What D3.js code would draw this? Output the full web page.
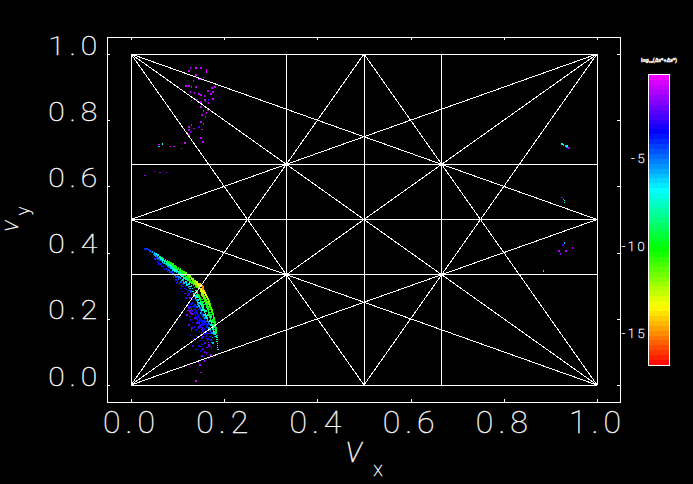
<!DOCTYPE html>
<html>
<head>
<meta charset="utf-8">
<script src="https://cdn.jsdelivr.net/npm/d3@7"></script>
<style>
  html, body { margin: 0; background: #000; }
  svg { display: block; }
  text { fill: #fff; stroke: #fff; stroke-width: 0.35px; font-family: Roboto, sans-serif; font-weight: 100; opacity: 0.99; }
</style>
</head>
<body>
<div id="chart"></div>
<script>
// tick labels
const frameTicks = [0, 0.2, 0.4, 0.6, 0.8, 1.0];
const barTicks = [-5, -10, -15];
const barRange = [-0.2, -16.8];

// resonance lines, [nuX1, nuY1, nuX2, nuY2]
const resonanceLines = [
  [0, 0, 1, 0], [0, 1, 1, 1], [0, 0, 0, 1], [1, 0, 1, 1],
  [1/3, 0, 1/3, 1], [0.5, 0, 0.5, 1], [2/3, 0, 2/3, 1],
  [0, 1/3, 1, 1/3], [0, 0.5, 1, 0.5], [0, 2/3, 1, 2/3],
  [0, 0, 1, 1], [0, 1, 1, 0],
  [0, 0, 1, 0.5], [0, 0, 0.5, 1], [1, 0, 0, 0.5], [1, 0, 0.5, 1],
  [0, 1, 1, 0.5], [0, 1, 0.5, 0], [1, 1, 0, 0.5], [1, 1, 0.5, 0]
];

// [nuX, nuY, log10 diffusion]
const armTopEdge = [
  [.030,.411,-4],[.034,.411,-4.2],[.038,.408,-4],[.042,.405,-5],[.046,.402,-5.5],[.050,.399,-6],
  [.054,.396,-6.5],[.058,.393,-7],[.062,.387,-8],[.066,.384,-8.5],[.070,.381,-9],[.074,.378,-9.5],
  [.078,.375,-10],[.082,.372,-10],[.086,.369,-10],[.090,.366,-10.5],[.094,.360,-10],[.098,.357,-11],
  [.102,.354,-10],[.106,.351,-11],[.110,.345,-10.5],[.114,.342,-11],[.118,.339,-11.5],[.122,.333,-11.5],
  [.126,.330,-12],[.130,.324,-12.5],[.134,.321,-12.5],[.138,.315,-13],[.142,.312,-13],[.146,.306,-13.5]
];
const armEdgeFill = [
  [.044,.400,-4.6],[.052,.393,-5.5],[.057,.389,-6],[.063,.384,-7],[.067,.380,-7.5],[.071,.376,-8.5],
  [.075,.373,-9],[.079,.370,-9.5],[.083,.367,-9.5],[.087,.364,-9.8],[.091,.360,-9.8],[.095,.355,-9.5],
  [.099,.352,-10],[.103,.349,-9.8],[.107,.345,-10],[.111,.341,-10.5],[.115,.338,-10.5],[.119,.334,-11],
  [.123,.329,-11],[.127,.325,-11.5],[.131,.320,-12],[.135,.315,-12],[.139,.310,-12.5],[.143,.306,-13],
  [.147,.301,-13.5]
];
const armSecondRow = [
  [.040,.402,-4],[.048,.396,-4.5],[.054,.390,-5],[.060,.384,-5.5],[.064,.381,-6.5],[.068,.375,-7],
  [.072,.372,-7.5],[.076,.369,-8],[.080,.366,-8.5],[.084,.363,-8],[.088,.360,-9],[.092,.354,-9],
  [.096,.351,-8.5],[.100,.348,-9],[.104,.345,-9],[.108,.339,-9.5],[.112,.336,-10],[.116,.333,-10],
  [.120,.327,-10.5],[.124,.324,-11],[.128,.318,-11],[.132,.315,-11.5],[.136,.309,-12],[.140,.306,-12.5],
  [.144,.300,-12.5],[.148,.297,-13]
];
const armInnerFill = [
  [.058,.381,-4.8],[.064,.376,-5],[.068,.371,-5.5],[.073,.367,-6],[.077,.364,-6.5],[.081,.361,-7],
  [.085,.358,-7],[.089,.353,-7.5],[.093,.350,-8],[.097,.346,-7.5],[.101,.343,-8],[.105,.339,-8.5],
  [.109,.334,-8.5],[.113,.330,-9],[.117,.327,-9],[.121,.322,-9.5],[.125,.318,-10],[.129,.313,-10],
  [.133,.309,-10.5],[.137,.304,-11],[.141,.300,-11.5],[.145,.295,-12]
];
const armThirdRow = [
  [.056,.384,-4],[.062,.378,-4.5],[.066,.375,-4],[.070,.369,-5],[.074,.363,-4.5],[.078,.360,-5.5],
  [.082,.357,-5],[.086,.354,-6],[.090,.348,-6.5],[.094,.345,-7],[.098,.342,-6.5],[.102,.339,-7.5],
  [.106,.333,-7],[.110,.330,-8],[.114,.324,-8],[.118,.321,-8.5],[.122,.318,-8],[.126,.312,-9],
  [.130,.309,-9.5],[.134,.303,-10],[.138,.300,-10.5],[.142,.294,-11],[.146,.291,-11.5]
];
const armScatter = [
  [.048,.390,-3.5],[.052,.381,-2.5],[.058,.372,-3.5],[.060,.366,-3],[.064,.366,-3.8],[.066,.360,-3.6],
  [.070,.357,-3.8],[.072,.351,-3.5],[.076,.351,-4],[.078,.345,-3.8],[.082,.348,-4.2],[.084,.342,-4.5],
  [.088,.342,-4],[.090,.336,-4.8],[.094,.333,-5],[.096,.327,-4.5],[.100,.330,-5.5],[.102,.321,-5],
  [.106,.324,-5.5],[.108,.315,-6],[.112,.318,-6.5],[.114,.309,-6],[.118,.312,-7],[.120,.303,-6.5],
  [.124,.306,-7.5],[.126,.297,-7],[.130,.300,-8],[.132,.291,-7.5],[.136,.294,-8.5],[.138,.285,-8],
  [.142,.285,-9],[.100,.312,-4.5],[.104,.306,-4],[.108,.300,-4],[.112,.297,-3.2],[.116,.291,-3.5],
  [.120,.288,-3],[.124,.285,-4.5],[.128,.279,-5],[.130,.270,-3.5],[.134,.273,-6],[.116,.276,-2.5],
  [.110,.282,-3],[.106,.291,-3.5],[.122,.270,-2.5],[.126,.262,-2.2],[.118,.262,-3],[.132,.258,-3.2],
  [.138,.268,-6.5],[.142,.272,-8],
  [.091,.327,-4.3],[.097,.318,-3.9],[.103,.326,-5.2],[.099,.309,-3.6],[.107,.311,-4.8],[.111,.304,-3.4],
  [.113,.315,-5.6],[.117,.299,-3.9],[.119,.308,-6.2],[.123,.296,-5.1],[.121,.281,-3.3],[.127,.291,-6],
  [.129,.284,-4.2],[.125,.275,-2.9],[.133,.282,-6.8],[.131,.264,-3.7],[.135,.267,-5.3],[.137,.276,-7.4],
  [.139,.258,-4.4],[.141,.266,-7.1],[.143,.281,-8.7],[.145,.257,-6.4],[.147,.269,-8.9],[.149,.263,-9.6],
  [.151,.272,-11],[.153,.258,-9.7],[.155,.251,-9.2],[.157,.243,-9.4],[.149,.244,-7.8],[.154,.239,-7.2],
  [.146,.248,-6.9]
];
const kneeRidge = [
  [.148,.305,-14],[.150,.302,-14.5],[.152,.299,-14.8],[.154,.296,-15],[.155,.293,-15],[.155,.290,-14.8],
  [.156,.287,-14.5],[.157,.284,-14],[.158,.281,-13.8],[.159,.278,-13.5],[.160,.275,-13],[.161,.272,-13],
  [.163,.266,-12.5],[.164,.263,-12.5],[.165,.260,-12],[.167,.254,-11.5],[.168,.251,-12],[.170,.245,-11],
  [.170,.239,-11.5],[.172,.233,-11],[.174,.227,-11],[.174,.221,-10.5],[.176,.215,-10.5],[.177,.209,-10],
  [.178,.203,-10.5],[.178,.197,-10],[.180,.191,-10],[.180,.185,-10],[.181,.179,-9.8],[.182,.173,-10],
  [.182,.167,-9.5],[.183,.161,-9.5],[.183,.155,-9.5],[.184,.149,-9],[.184,.143,-9],[.185,.137,-8.5],
  [.185,.131,-8.5],[.186,.125,-8],[.186,.119,-7.5],[.186,.113,-7],[.187,.107,-6.5]
];
const kneeFill = [
  [.152,.290,-13.5],[.153,.284,-13.5],[.155,.279,-13],[.156,.275,-12.5],[.158,.269,-12],[.160,.263,-11.5],
  [.161,.257,-11.5],[.163,.250,-11],[.165,.244,-11],[.167,.236,-10.5],[.169,.228,-10.5],[.170,.219,-10],
  [.172,.212,-10],[.173,.205,-9.5],[.175,.197,-9.5],[.176,.190,-9.5],[.177,.182,-9],[.178,.175,-9],
  [.179,.168,-8.5],[.180,.161,-8.5],[.181,.154,-8],[.182,.146,-7.5]
];
const kneeInnerRow = [
  [.146,.300,-13],[.147,.294,-13.5],[.149,.291,-13.8],[.150,.288,-13],[.150,.284,-12.5],[.151,.281,-13],
  [.152,.278,-12.5],[.153,.275,-12],[.154,.272,-12],[.155,.269,-11.5],[.156,.266,-11],[.157,.262,-11],
  [.158,.258,-10.5],[.159,.254,-11],[.160,.251,-10],[.161,.245,-10.5],[.163,.242,-10],[.163,.236,-9.5],
  [.165,.230,-10],[.166,.224,-9.5],[.167,.218,-9],[.168,.212,-9.5],[.170,.206,-8.5],[.171,.200,-9],
  [.172,.194,-8.5],[.173,.188,-8],[.174,.182,-8.5],[.175,.176,-7.5],[.176,.170,-8],[.177,.164,-7],
  [.178,.158,-6.5],[.178,.152,-5.5],[.179,.146,-5]
];
const lowerScatter = [
  [.140,.279,-9.5],[.143,.276,-10],[.145,.272,-10.5],[.146,.266,-9.5],[.147,.260,-9],[.149,.256,-10],
  [.150,.250,-9],[.152,.245,-8.5],[.153,.239,-9],[.155,.233,-8],[.157,.227,-8.5],[.158,.221,-7.5],
  [.160,.215,-7],[.161,.209,-7.5],[.163,.203,-6.5],[.164,.197,-6],[.166,.191,-5.5],[.167,.185,-4.5],
  [.135,.276,-8],[.138,.263,-7],[.141,.257,-6],[.143,.251,-6.5],[.144,.245,-5.5],[.146,.239,-6],
  [.148,.233,-5],[.150,.227,-4.5],[.151,.221,-5],[.153,.215,-4],[.155,.209,-4.5],[.156,.203,-4],
  [.158,.197,-3.5],[.159,.191,-4],[.161,.185,-3.5],[.163,.179,-3.8],[.165,.173,-3.6],[.167,.167,-3.5],
  [.169,.161,-3.2],[.171,.155,-3],[.173,.149,-3.2],[.132,.248,-4],[.134,.242,-3.5],[.136,.236,-3.8],
  [.138,.230,-3.2],[.140,.224,-3.5],[.142,.218,-3],[.144,.212,-3.6],[.146,.206,-3.2],[.148,.200,-3.8],
  [.150,.194,-3.5],[.152,.188,-3.8],[.154,.182,-3.2],[.156,.176,-3.6],[.158,.170,-3],[.160,.164,-3.4],
  [.162,.158,-3.6],[.164,.152,-3],[.128,.236,-2.5],[.130,.230,-2.2],[.132,.224,-2.5],[.126,.224,-2],
  [.128,.218,-1.8],[.124,.233,-2.2],[.122,.239,-3],[.136,.218,-3.5],[.138,.212,-3],[.140,.206,-3.4],
  [.142,.200,-3],[.144,.194,-3.5],[.146,.188,-2.8],[.148,.182,-3.2],[.150,.176,-3],[.152,.170,-2.6],
  [.154,.164,-3],[.156,.158,-3.2],[.158,.152,-2.8],[.160,.146,-2.6],[.162,.140,-2.5],[.164,.134,-2.2],
  [.166,.128,-2],[.168,.122,-1.8],[.170,.116,-2],[.172,.136,-4],[.174,.128,-5],[.144,.172,-3],
  [.147,.160,-3.4],[.150,.152,-3],[.153,.142,-2.6],[.156,.135,-3],[.148,.134,-3.2],[.146,.118,-3.5],
  [.150,.116,-2.8],[.155,.108,-2.5],[.158,.100,-2],[.162,.096,-1.8],[.152,.088,-2],[.145,.070,-1.6],
  [.148,.060,-1.2],[.143,.047,-1],[.158,.073,-1.5],[.166,.082,-1.5],[.172,.090,-1.2],[.130,.166,-2],
  [.138,.150,-2.5],[.128,.056,-1.2],[.150,.038,-1.5],[.139,.012,-0.8],
  [.133,.237,-2.9],[.129,.245,-3.4],[.137,.241,-4.1],[.141,.236,-4.9],[.145,.228,-4.3],[.139,.222,-3.7],
  [.135,.228,-2.7],[.131,.215,-2.1],[.143,.209,-3.3],[.137,.203,-2.6],[.149,.217,-5.8],[.153,.226,-6.7],
  [.157,.212,-6.2],[.161,.224,-8.2],[.165,.212,-8.1],[.159,.203,-5.4],[.163,.192,-5],[.155,.194,-3.9],
  [.147,.194,-3.1],[.141,.188,-2.4],[.151,.184,-3.5],[.157,.184,-3.3],[.165,.183,-4.4],[.169,.194,-7.3],
  [.172,.181,-6.8],[.168,.172,-5.7],[.161,.174,-3.7],[.153,.173,-3.1],[.146,.175,-2.5],[.155,.166,-2.9],
  [.163,.165,-4],[.171,.167,-6.1],[.174,.158,-5.2],[.167,.156,-3.6],[.159,.157,-3.1],[.151,.158,-2.7],
  [.162,.148,-2.9],[.169,.146,-3.8],[.175,.143,-5.4],[.155,.147,-2.6],[.165,.139,-3.1],[.171,.134,-3.4],
  [.176,.127,-6],[.159,.127,-2.4],[.167,.118,-2.3],[.153,.122,-3.7],[.163,.113,-2],[.173,.111,-2.8],
  [.177,.118,-3.6],[.143,.128,-3.9],[.149,.103,-3.4],
  [.122,.225,-2.2],[.126,.207,-3],[.120,.212,-1.6],[.128,.196,-2.8],[.133,.189,-3.3],[.125,.181,-2.1],
  [.136,.176,-3],[.131,.172,-2.6],[.139,.166,-3.4],[.128,.150,-2.4],[.135,.139,-3.1],[.141,.146,-3.6],
  [.133,.118,-2.7],[.140,.107,-3]
];

// sparse islands elsewhere in the frequency square
const upperLeftIsland = [
  [.128,.958,-1],[.140,.958,-0.8],[.150,.958,-1],[.162,.951,-0.5],[.162,.945,-0.5],[.124,.948,-0.8],
  [.140,.936,-0.8],[.156,.929,-0.8],[.150,.924,-1.5],[.146,.924,-1],[.134,.918,-1],[.130,.900,-1],
  [.118,.903,-0.8],[.124,.903,-1],[.140,.900,-1.2],[.128,.885,-1],[.136,.882,-1.5],[.146,.879,-1],
  [.150,.876,-1],[.158,.873,-1.2],[.172,.879,-1],[.176,.864,-0.8],[.166,.861,-2.5],[.142,.861,-1.5],
  [.150,.855,-1],[.160,.858,-1],[.130,.860,-1],[.166,.852,-1],[.150,.840,-1],[.156,.828,-1],
  [.162,.822,-0.8],[.152,.816,-1.2],[.160,.810,-1],[.150,.795,-1],[.156,.789,-0.8],[.130,.786,-1],
  [.124,.780,-1],[.135,.775,-1.2],[.146,.780,-2.5],[.152,.772,-1],[.125,.771,-1],[.128,.765,-1.5],
  [.120,.762,-1],[.124,.756,-0.8],[.150,.747,-1],[.130,.741,-1],[.155,.735,-1],[.116,.732,-0.8],
  [.092,.720,-0.8],[.108,.714,-1],[.060,.726,-0.6],[.060,.720,-6],[.068,.729,-7],[.085,.720,-0.7],
  [.174,.897,-1],[.180,.900,-0.8],[.165,.888,-1.2],[.176,.885,-1],[.159,.861,-1],[.165,.831,-1.4]
];
const leftBand = [[.030,.633,-1.5],[.050,.645,-1.5],[.062,.642,-1.5],[.076,.642,-1.5]];
const rightIslands = [
  [.925,.728,-7],[.928,.725,-6.5],[.932,.722,-6],[.936,.719,-5.5],[.940,.716,-1.5],[.935,.722,-7],
  [.925,.566,-2],[.928,.560,-6],[.930,.557,-6.5],[.930,.551,-7],
  [.930,.429,-6],[.927,.423,-3],[.933,.405,-1],[.947,.414,-1],[.922,.396,-1.5],[.918,.405,-1.2],
  [.885,.345,-8]
];

const cloudPoints = [armScatter, lowerScatter, armThirdRow, armInnerFill, armSecondRow, armEdgeFill, armTopEdge,
  kneeInnerRow, kneeFill, kneeRidge, upperLeftIsland, leftBand, rightIslands].flat();

const svg = d3.select('#chart')
  .append('svg')
  .attr('width', 693)
  .attr('height', 484)
  .style('background', '#000');

// Frame runs a little past the unit square on every side
const frame = { left: 107, right: 620, top: 37, bottom: 402 };
const x = d3.scaleLinear().domain([0, 1]).range([131, 597]);
const y = d3.scaleLinear().domain([0, 1]).range([385, 54]);

// Hue runs from red at the bottom of the colour bar to magenta at the top
const hue = d3.scaleLinear().domain([barRange[1], barRange[0]]).range([0, 300]).clamp(true);
const colorOf = v => d3.hsl(hue(v), 1, 0.5).formatHex();

svg.append('rect')
  .attr('x', frame.left)
  .attr('y', frame.top)
  .attr('width', frame.right - frame.left)
  .attr('height', frame.bottom - frame.top)
  .attr('fill', 'none')
  .attr('stroke', '#fff')
  .attr('stroke-width', 1)
  .attr('shape-rendering', 'crispEdges');

// Points sit under the resonance lines
svg.append('g')
  .selectAll('rect')
  .data(cloudPoints)
  .enter()
  .append('rect')
  .attr('x', d => x(d[0]) - 0.8)
  .attr('y', d => y(d[1]) - 0.8)
  .attr('width', 1.6)
  .attr('height', 1.6)
  .attr('shape-rendering', 'crispEdges')
  .attr('fill', d => colorOf(d[2]));

svg.append('g')
  .selectAll('line')
  .data(resonanceLines)
  .enter()
  .append('line')
  .attr('x1', d => x(d[0]))
  .attr('y1', d => y(d[1]))
  .attr('x2', d => x(d[2]))
  .attr('y2', d => y(d[3]))
  .attr('stroke', '#fff')
  .attr('stroke-width', 1)
  .attr('shape-rendering', 'crispEdges');

// Inward ticks on all four sides
function styleAxis(g) {
  g.select('.domain').remove();
  g.selectAll('line').attr('stroke', '#fff').attr('shape-rendering', 'crispEdges');
}
const xTickFmt = d3.format('.1f');

svg.append('g')
  .attr('transform', `translate(0,${frame.bottom})`)
  .call(d3.axisBottom(x).tickValues(frameTicks).tickSize(-3).tickFormat(xTickFmt))
  .call(styleAxis)
  .selectAll('text')
  .attr('y', 31)
  .attr('dy', 0)
  .style('font-size', '32px')
  .style('letter-spacing', '5px');

svg.append('g')
  .attr('transform', `translate(0,${frame.top})`)
  .call(d3.axisTop(x).tickValues(frameTicks).tickSize(-3).tickFormat(''))
  .call(styleAxis);

svg.append('g')
  .attr('transform', `translate(${frame.right},0)`)
  .call(d3.axisRight(y).tickValues(frameTicks).tickSize(-3).tickFormat(''))
  .call(styleAxis);

const yAxis = svg.append('g')
  .attr('transform', `translate(${frame.left},0)`)
  .call(d3.axisLeft(y).tickValues(frameTicks).tickSize(-3).tickFormat(xTickFmt))
  .call(styleAxis);

yAxis.selectAll('text')
  .attr('x', 0)
  .attr('dy', 0)
  .attr('y', 0)
  .attr('text-anchor', 'end')
  .attr('transform', 'translate(-5,0) scale(1.2,1)')
  .style('font-size', '25px')
  .style('letter-spacing', '4px');

// Axis titles
svg.append('text')
  .attr('x', 354)
  .attr('y', 462)
  .attr('text-anchor', 'middle')
  .style('font-style', 'italic')
  .style('font-size', '36px')
  .text('ν');

svg.append('text')
  .attr('x', 378)
  .attr('y', 476)
  .attr('text-anchor', 'middle')
  .style('font-size', '20px')
  .text('x');

svg.append('text')
  .attr('transform', 'translate(18,226) rotate(-90)')
  .attr('text-anchor', 'middle')
  .style('font-style', 'italic')
  .style('font-size', '24px')
  .text('ν');

svg.append('text')
  .attr('transform', 'translate(29,211) rotate(-90)')
  .attr('text-anchor', 'middle')
  .style('font-size', '18px')
  .text('y');

// Colour bar
const bar = { left: 648, right: 669, top: 74, bottom: 365 };
const barStep = 0.28;
const barY = d3.scaleLinear().domain(barRange).range([bar.top, bar.bottom]);
const barLevels = d3.range(barRange[1], barRange[0], barStep);
const stripTop = d => Math.min(d + barStep, barRange[0]);

svg.append('g')
  .selectAll('rect')
  .data(barLevels)
  .enter()
  .append('rect')
  .attr('x', bar.left)
  .attr('width', bar.right - bar.left)
  .attr('y', d => barY(stripTop(d)))
  .attr('height', d => barY(d) - barY(stripTop(d)))
  .attr('shape-rendering', 'crispEdges')
  .attr('fill', d => colorOf(d + barStep / 2));

svg.append('rect')
  .attr('x', bar.left)
  .attr('y', bar.top)
  .attr('width', bar.right - bar.left)
  .attr('height', bar.bottom - bar.top)
  .attr('fill', 'none')
  .attr('stroke', '#fff')
  .attr('shape-rendering', 'crispEdges');

svg.append('g')
  .selectAll('text')
  .data(barTicks)
  .enter()
  .append('text')
  .attr('x', 647)
  .attr('y', d => barY(d) + 5)
  .attr('text-anchor', 'end')
  .style('font-size', '13px')
  .style('letter-spacing', '2.5px')
  .text(d => '-' + Math.abs(d));

svg.append('text')
  .attr('x', 659)
  .attr('y', 62)
  .attr('text-anchor', 'middle')
  .style('font-size', '5.5px')
  .style('font-weight', 700)
  .text('log\u2081\u2080(\u0394\u03BD\u00B2+\u0394\u03BD\u00B2)');
</script>
</body>
</html>
